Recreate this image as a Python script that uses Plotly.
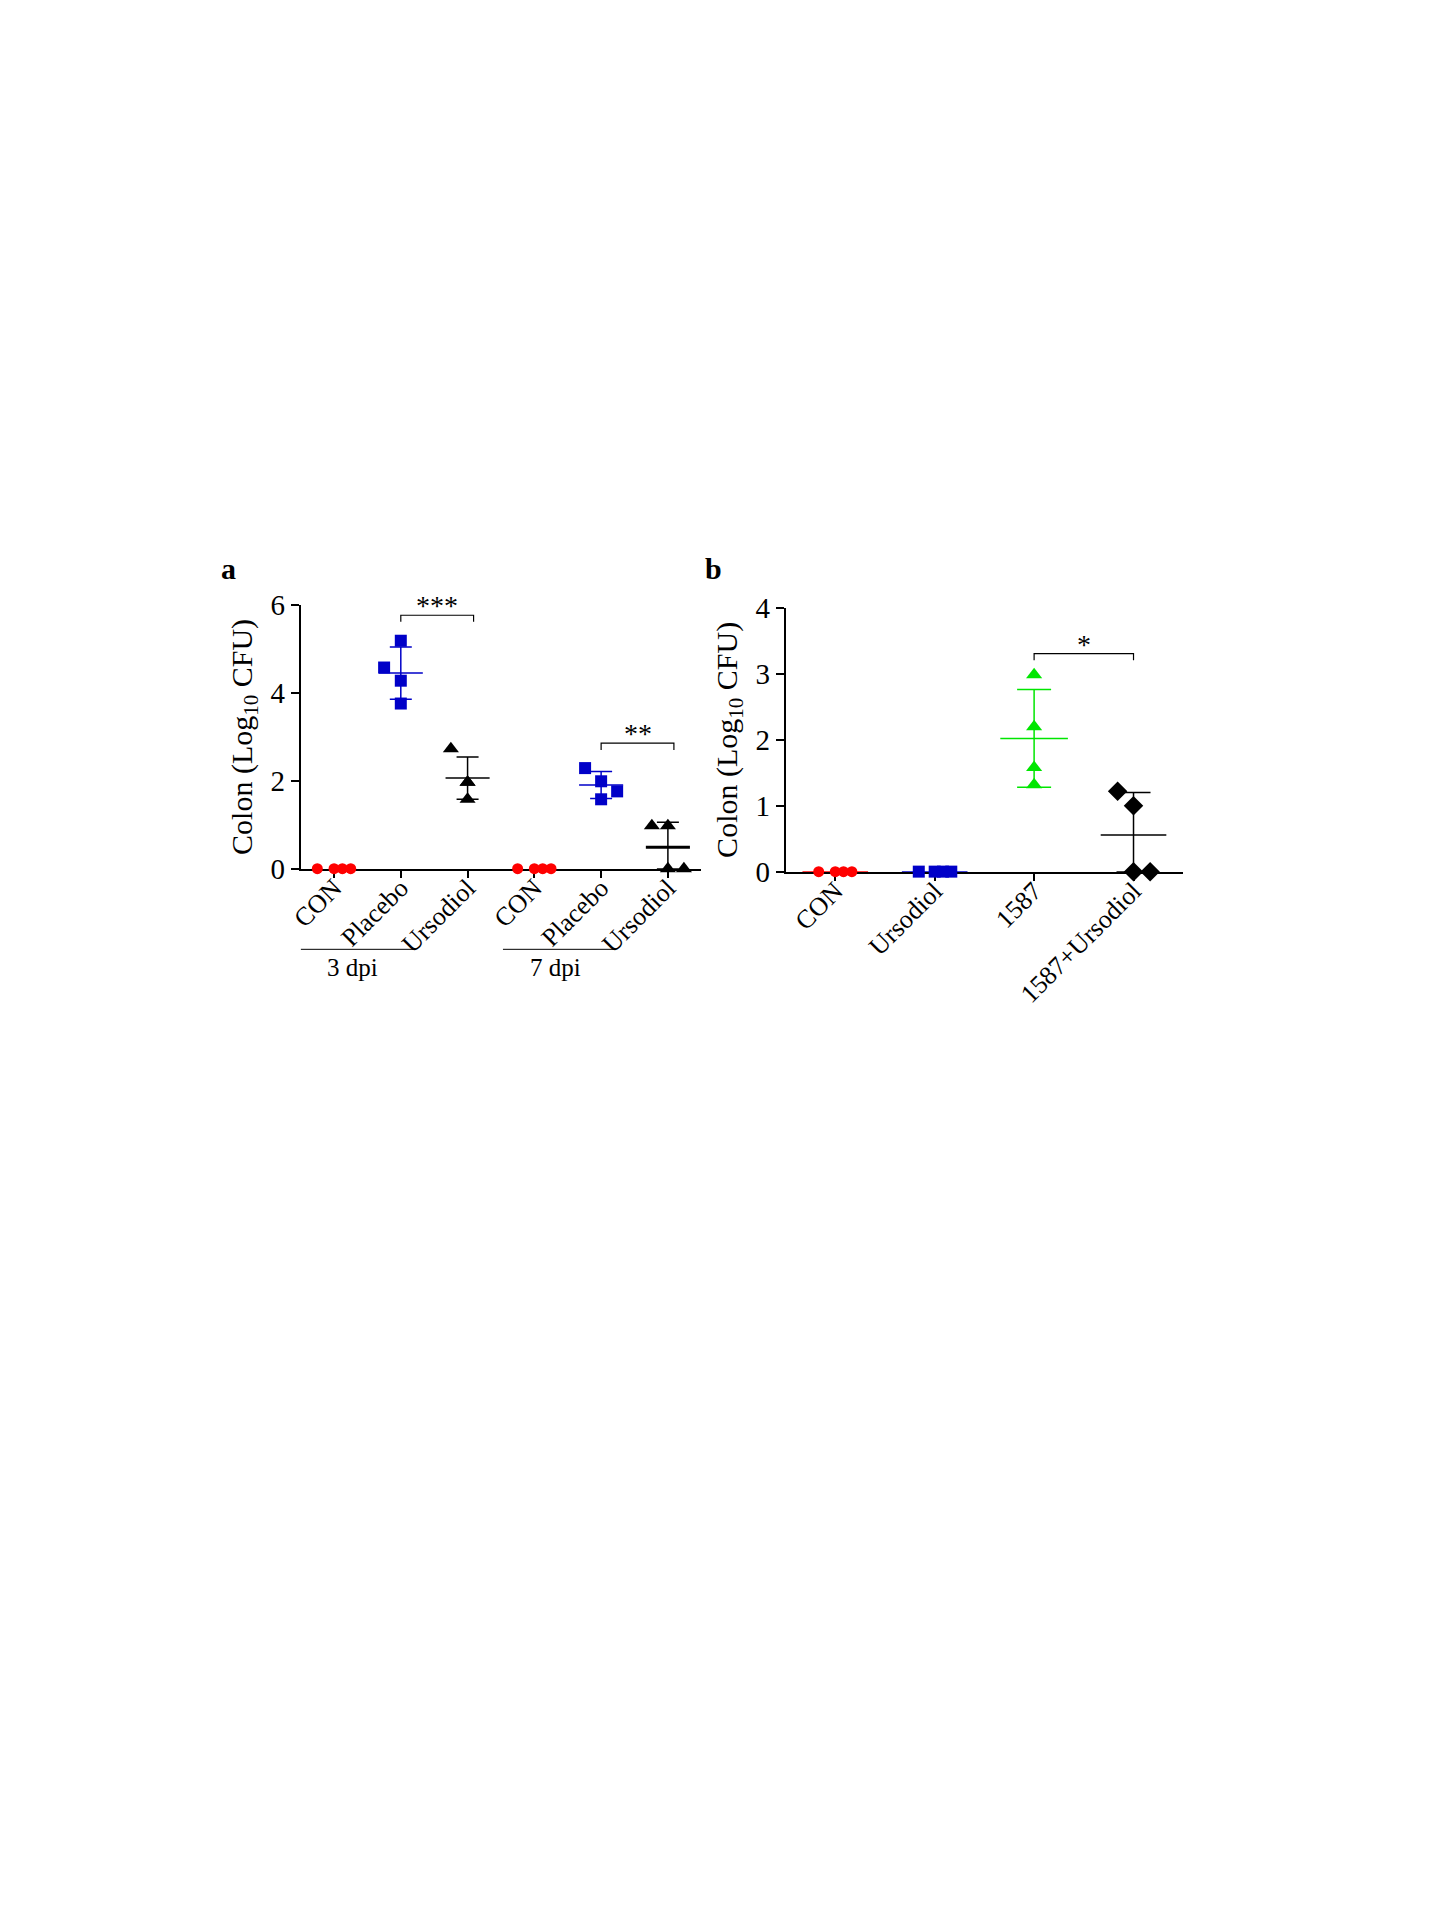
import numpy as np
import plotly.graph_objects as go

# ---- panel a data (Colon, Log10 CFU) ----
a_categories = ["CON", "Placebo", "Ursodiol", "CON", "Placebo", "Ursodiol"]
a_con3 = [0, 0, 0, 0]
a_placebo3 = [5.19, 4.58, 4.28, 3.76]
a_urso3 = [2.73, 1.97, 1.97, 1.58]
a_con7 = [0, 0, 0, 0]
a_placebo7 = [2.29, 1.99, 1.76, 1.58]
a_urso7 = [0.98, 0.98, 0, 0]

# ---- panel b data ----
b_categories = ["CON", "Ursodiol", "1587", "1587+Ursodiol"]
b_con = [0, 0, 0, 0]
b_urso = [0, 0, 0, 0]
b_1587 = [2.99, 2.20, 1.58, 1.32]
b_combo = [1.22, 1.0, 0, 0]

a_yticks = [0, 2, 4, 6]
b_yticks = [0, 1, 2, 3, 4]

RED = "rgb(255,0,0)"
BLUE = "rgb(0,0,200)"
GREEN = "rgb(0,230,0)"
BLACK = "black"
FONT = "Liberation Serif, Times New Roman, serif"

W, H = 1440, 1920
DX, DY = 18, 8  # page offset compensation (body margin)


def px(x):
    return (x - DX) / W


def py(y):
    return 1 - (y - DY) / H


fig = go.Figure()


def add_group(fig, xc, vals, offsets, color, symbol, size, xa, ya,
              half=0.33, cap=11, mean_w=1.5, show_bar=True):
    vals = np.array(vals, dtype=float)
    m = vals.mean()
    sd = vals.std(ddof=1)
    if show_bar:
        fig.add_trace(go.Scatter(
            x=[xc - half, xc + half], y=[m, m], mode="lines",
            line=dict(color=color, width=mean_w), xaxis=xa, yaxis=ya,
            showlegend=False, hoverinfo="skip", cliponaxis=False))
        if sd > 0:
            fig.add_trace(go.Scatter(
                x=[xc], y=[m], mode="markers", marker=dict(size=0.1, color=color),
                error_y=dict(type="data", array=[sd], arrayminus=[min(sd, m)],
                             color=color, thickness=1.5, width=cap),
                xaxis=xa, yaxis=ya, showlegend=False, hoverinfo="skip",
                cliponaxis=False))
    fig.add_trace(go.Scatter(
        x=[xc + o for o in offsets], y=vals, mode="markers",
        marker=dict(symbol=symbol, size=size, color=color, line=dict(width=0)),
        xaxis=xa, yaxis=ya, showlegend=False, cliponaxis=False))


# panel a
add_group(fig, 0, a_con3, [-0.25, 0, 0.125, 0.25], RED, "circle", 11, "x", "y", show_bar=False)
add_group(fig, 1, a_placebo3, [0, -0.25, 0, 0], BLUE, "square", 12, "x", "y")
add_group(fig, 2, a_urso3, [-0.25, 0, 0, 0], BLACK, "triangle-up", 14, "x", "y")
add_group(fig, 3, a_con7, [-0.25, 0, 0.125, 0.25], RED, "circle", 11, "x", "y", show_bar=False)
add_group(fig, 4, a_placebo7, [-0.24, 0, 0.24, 0], BLUE, "square", 12, "x", "y")
add_group(fig, 5, a_urso7, [-0.24, 0, 0, 0.24], BLACK, "triangle-up", 14, "x", "y", mean_w=3)

# panel b
add_group(fig, 0, b_con, [-0.167, 0, 0.083, 0.167], RED, "circle", 11, "x2", "y2", cap=17)
add_group(fig, 1, b_urso, [-0.16, 0, 0.083, 0.167], BLUE, "square", 12, "x2", "y2", cap=17)
add_group(fig, 2, b_1587, [0, 0, 0, 0], GREEN, "triangle-up", 14, "x2", "y2", half=0.34, cap=17)
add_group(fig, 3, b_combo, [-0.16, 0, 0, 0.167], BLACK, "diamond", 15, "x2", "y2", cap=17)

# significance brackets
brackets = [
    ("x", "y", 1, 2.09, 5.77, 5.62, "***"),
    ("x", "y", 4, 5.09, 2.86, 2.70, "**"),
    ("x2", "y2", 2, 3.0, 3.31, 3.21, "*"),
]
for xa, ya, x1, x2, ytop, ybot, star in brackets:
    fig.add_trace(go.Scatter(
        x=[x1, x1, x2, x2], y=[ybot, ytop, ytop, ybot], mode="lines",
        line=dict(color=BLACK, width=1.2), xaxis=xa, yaxis=ya,
        showlegend=False, hoverinfo="skip", cliponaxis=False))
    fig.add_annotation(x=(x1 + x2) / 2, y=ytop, xref=xa, yref=ya, text=star,
                       showarrow=False, xanchor="center", yanchor="bottom", yshift=-8,
                       font=dict(family=FONT, size=28, color=BLACK))

# group labels under panel a
for x0, x1, xt, label in [(-0.5, 1.19, 0.28, "3 dpi"), (2.53, 4.22, 3.31, "7 dpi")]:
    fig.add_shape(type="line", xref="x", yref="paper", x0=x0, x1=x1,
                  y0=py(949), y1=py(949), line=dict(color=BLACK, width=1))
    fig.add_annotation(x=xt, y=py(967), xref="x", yref="paper", text=label,
                       showarrow=False, xanchor="center", yanchor="middle",
                       font=dict(family=FONT, size=25, color=BLACK))

# panel letters
for lx, label in [(228, "a"), (717, "b")]:
    fig.add_annotation(x=px(lx), y=py(562), xref="paper", yref="paper", text="<b>%s</b>" % label,
                       showarrow=False, xanchor="center", yanchor="middle",
                       font=dict(family=FONT, size=30, color=BLACK))

ytitle = "Colon (Log<sub>10</sub> CFU)"
xcommon = dict(showgrid=False, zeroline=False, showline=True, linecolor=BLACK, linewidth=1.5,
               ticks="outside", ticklen=8, tickwidth=1.5, tickcolor=BLACK, tickangle=-45,
               ticklabelstandoff=-16,
               tickfont=dict(family=FONT, size=26, color=BLACK), layer="below traces")
ycommon = dict(showgrid=False, zeroline=False, showline=True, linecolor=BLACK, linewidth=1.5,
               ticks="outside", ticklen=8, tickwidth=1.5, tickcolor=BLACK,
               tickfont=dict(family=FONT, size=29, color=BLACK), layer="below traces",
               title=dict(text=ytitle, font=dict(family=FONT, size=30, color=BLACK), standoff=9))

fig.update_layout(
    width=W, height=H,
    margin=dict(l=0, r=0, t=0, b=0),
    paper_bgcolor="white", plot_bgcolor="white",
    xaxis=dict(xcommon, domain=[px(301), px(705)], range=[-0.5, 5.5],
               tickvals=list(range(len(a_categories))), ticktext=a_categories, anchor="y"),
    yaxis=dict(ycommon, domain=[py(867), py(599)], range=[0, 6],
               tickvals=a_yticks, anchor="x"),
    xaxis2=dict(xcommon, domain=[px(790), px(1191)], range=[-0.5, 3.5],
                tickvals=list(range(len(b_categories))), ticktext=b_categories, anchor="y2"),
    yaxis2=dict(ycommon, domain=[py(870), py(602)], range=[0, 4],
                tickvals=b_yticks, anchor="x2"),
)

fig.write_html("out.html")
